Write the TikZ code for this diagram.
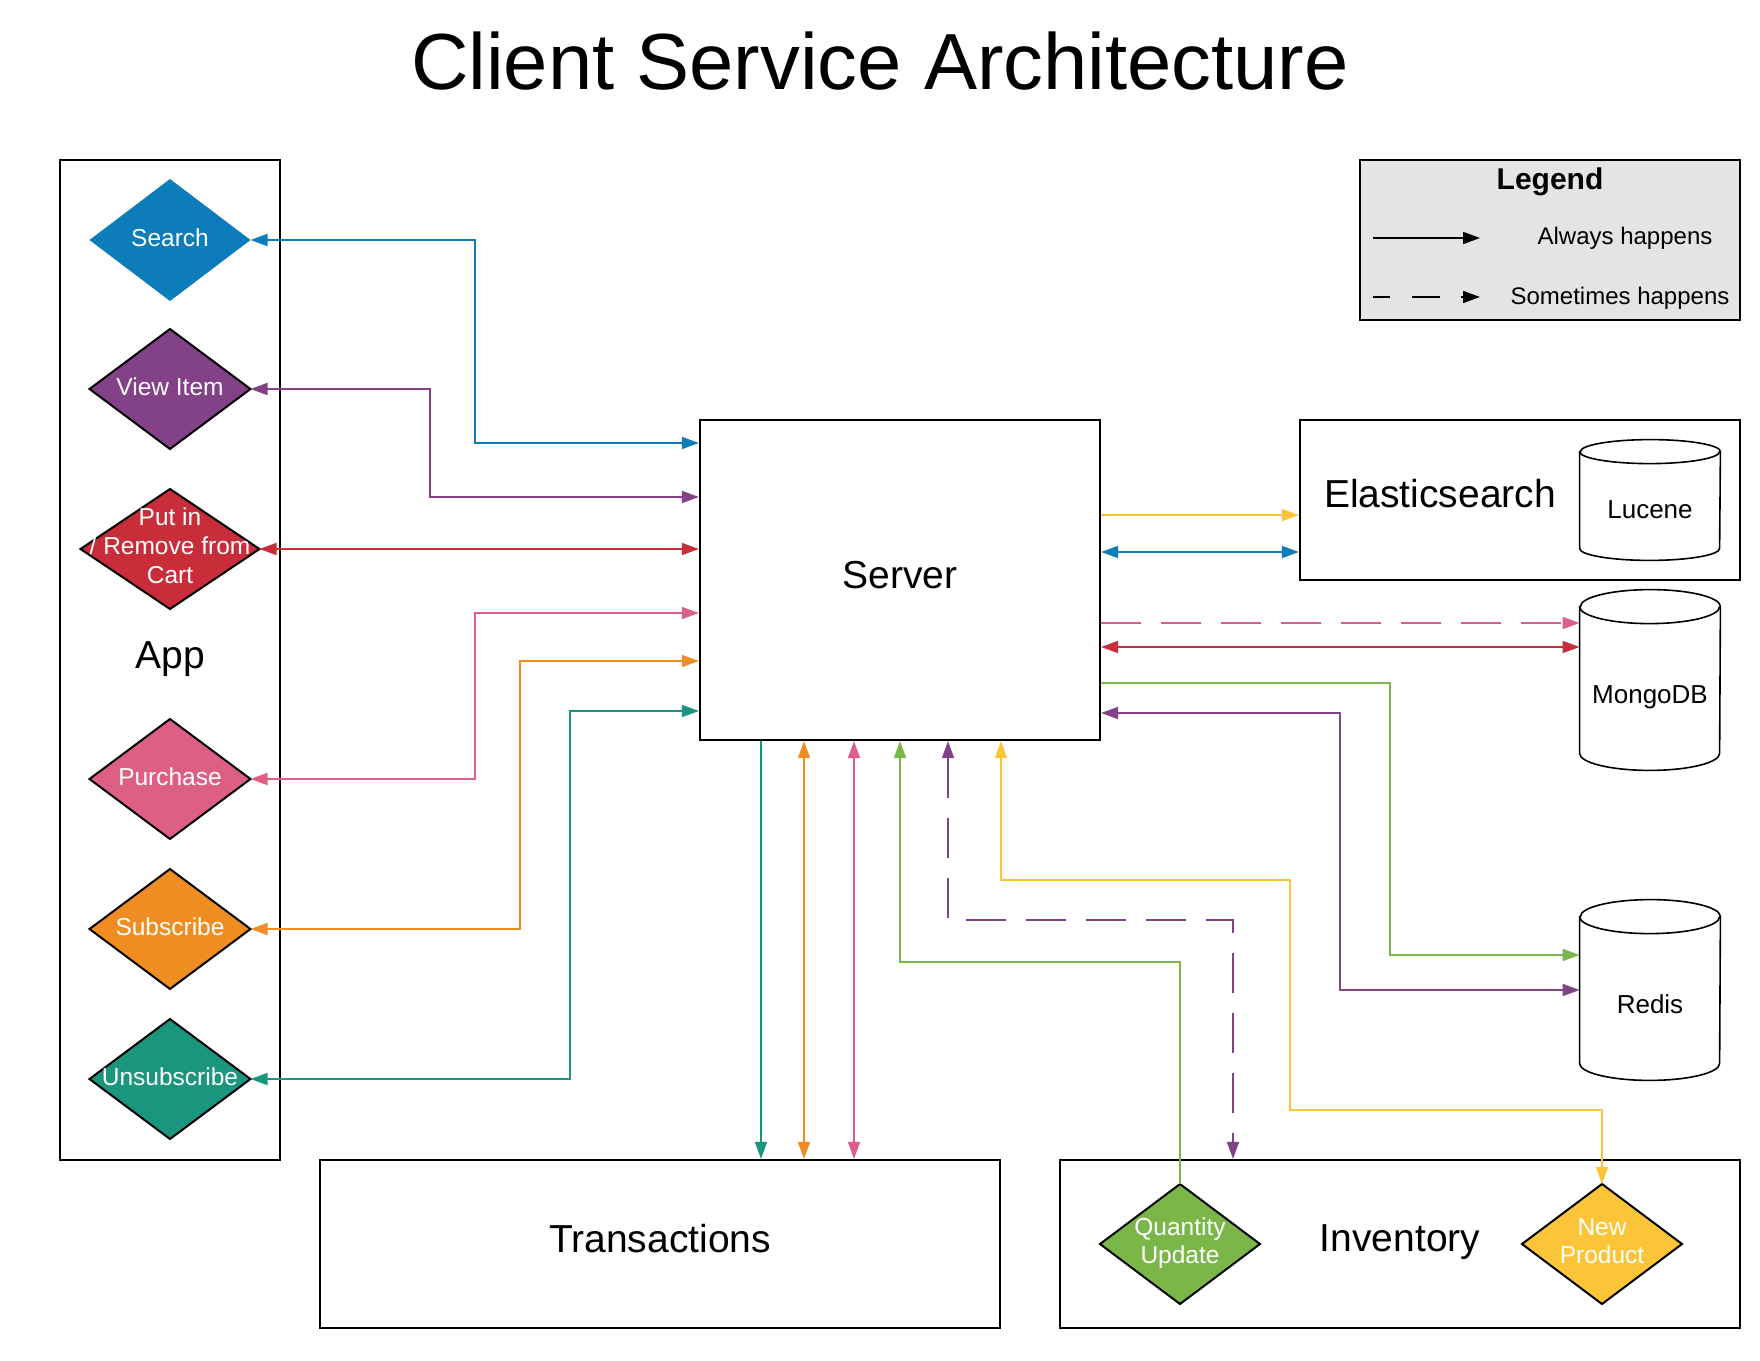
\documentclass[tikz,border=0pt]{standalone}
\usepackage{fontspec}
\setmainfont{Liberation Sans}
\usetikzlibrary{arrows.meta,shapes.geometric}
\definecolor{cBlue}{HTML}{0C7CBA}
\definecolor{cPurple}{HTML}{834187}
\definecolor{cRed}{HTML}{C92D39}
\definecolor{cPink}{HTML}{DE5F85}
\definecolor{cOrange}{HTML}{EF8D22}
\definecolor{cTeal}{HTML}{19967D}
\definecolor{cGreen}{HTML}{7AB648}
\definecolor{cYellow}{HTML}{FCC438}
\definecolor{cLegend}{HTML}{E4E4E4}
\newcommand\mycyl[2]{%
  \draw[line width=0.8pt, fill=white] ([yshift=-#2]#1.north west) -- ([yshift=#2]#1.south west)
    arc[start angle=180,end angle=360,x radius=35pt,y radius=#2]
    -- ([yshift=-#2]#1.north east)
    arc[start angle=0,end angle=180,x radius=35pt,y radius=#2] -- cycle;
  \draw[line width=0.8pt] ([yshift=-#2]#1.north west) arc[start angle=180,end angle=360,x radius=35pt,y radius=#2];
}
\begin{document}
\begin{tikzpicture}[x=0.5pt,y=-0.5pt,
  box/.style={draw, line width=1.1pt, rectangle, inner sep=0pt, fill=white},
  dbox/.style={rectangle, inner sep=0pt, draw=none},
  dia/.style={diamond, draw, line width=1pt, inner sep=0pt, outer sep=0pt, minimum width=80.5pt, minimum height=60pt},
  dtxt/.style={text=white, font=\fontsize{12.25pt}{14.5pt}\selectfont, text height=8.5pt, text depth=2.5pt, inner sep=0pt},
  dtxtm/.style={text=white, font=\fontsize{12.25pt}{14.5pt}\selectfont, align=center, inner sep=0pt},
  dtxtq/.style={text=white, font=\fontsize{12.25pt}{14pt}\selectfont, align=center, inner sep=0pt},
  big/.style={font=\fontsize{19.5pt}{23pt}\selectfont, anchor=base, inner sep=0pt},
  dbt/.style={font=\fontsize{13pt}{15pt}\selectfont, anchor=base, inner sep=0pt},
  leg/.style={font=\fontsize{12pt}{14pt}\selectfont, anchor=base, inner sep=0pt},
  conn/.style={line width=0.8pt},
  dsh/.style={dash pattern=on 20pt off 10pt},
  >={Triangle[length=8.5pt,width=6pt]}
]
\useasboundingbox (0,0) rectangle (1760,1360);

% title
\node[font=\fontsize{39.8pt}{47pt}\selectfont, anchor=base, inner sep=0pt] (title) at (880,89) {Client Service Architecture};

% App column
\node[box, minimum width=110pt, minimum height=500pt] (app) at (170,660) {};
\node[big] (applbl) at (170,668) {App};
\node[dia, fill=cBlue, draw=none, minimum height=61pt, label={[dtxt]center:Search}] (search) at (170,240) {};
\node[dia, fill=cPurple, label={[dtxt]center:View Item}] (view) at (170,389) {};
\node[dia, fill=cRed, minimum width=89.5pt, label={[dtxtm, yshift=1.8pt]center:{Put in\\/ Remove from\\Cart}}] (cart) at (170,549) {};
\node[dia, fill=cPink, label={[dtxt]center:Purchase}] (purchase) at (170,779) {};
\node[dia, fill=cOrange, label={[dtxt]center:Subscribe}] (sub) at (170,929) {};
\node[dia, fill=cTeal, label={[dtxt]center:Unsubscribe}] (unsub) at (170,1079) {};

% server
\node[box, minimum width=200pt, minimum height=160pt] (srv) at (900,580) {};
\node[big] (srvlbl) at (900,588) {Server};

% elasticsearch
\node[box, minimum width=220pt, minimum height=80pt] (es) at (1520,500) {};
\node[big] (eslbl) at (1440,507) {Elasticsearch};
\node[dbox, minimum width=70pt, minimum height=60pt] (lucene) at (1650,500) {};
\mycyl{lucene}{6pt}
\node[dbt] (lucenelbl) at (1650,518) {Lucene};

% databases
\node[dbox, minimum width=70pt, minimum height=90pt] (mongo) at (1650,680) {};
\mycyl{mongo}{8.5pt}
\node[dbt] (mongolbl) at (1650,703) {MongoDB};
\node[dbox, minimum width=70pt, minimum height=90pt] (redis) at (1650,990) {};
\mycyl{redis}{8.5pt}
\node[dbt] (redislbl) at (1650,1013) {Redis};

% transactions / inventory
\node[box, minimum width=340pt, minimum height=84pt] (trans) at (660,1244) {};
\node[big] (translbl) at (660,1252) {Transactions};
\node[box, minimum width=340pt, minimum height=84pt] (inv) at (1400,1244) {};
\node[big] (invlbl) at (1400,1251) {Inventory};
\node[dia, fill=cGreen, minimum width=80pt, label={[dtxtq, yshift=0.6pt]center:{Quantity\\Update}}] (qty) at (1180,1244) {};
\node[dia, fill=cYellow, minimum width=80pt, label={[dtxtq, yshift=1.3pt]center:{New\\Product}}] (newp) at (1602,1244) {};

% legend
\node[box, fill=cLegend, minimum width=190pt, minimum height=80pt] (legend) at (1550,240) {};
\node[font=\fontsize{15pt}{18pt}\selectfont\bfseries, anchor=base, inner sep=0pt] (legtitle) at (1550,189) {Legend};
\coordinate (la1) at (1373,238);
\coordinate (la2) at (1480,238);
\coordinate (ls1) at (1373,297);
\coordinate (ls2) at (1480,297);
\draw[conn, ->] (la1) -- (la2);
\draw[conn, ->, dash pattern=on 8.5pt off 11pt on 14pt off 10.5pt] (ls1) -- (ls2);
\node[leg] (always) at (1625,244) {Always happens};
\node[leg] (sometimes) at (1620,304) {Sometimes happens};

% left connectors
\draw[conn, cBlue, <->] (search.east) -- (475,240) |- (srv.west |- 0,443);
\draw[conn, cPurple, <->] (view.east) -- (430,389) |- (srv.west |- 0,497);
\draw[conn, cRed, <->] (cart.east) -- (cart.east -| srv.west);
\draw[conn, cPink, <->] (purchase.east) -- (475,779) |- (srv.west |- 0,613);
\draw[conn, cOrange, <->] (sub.east) -- (520,929) |- (srv.west |- 0,661);
\draw[conn, cTeal, <->] (unsub.east) -- (570,1079) |- (srv.west |- 0,711);

% right connectors
\draw[conn, cYellow, ->] (srv.east |- 0,515) -- (es.west |- 0,515);
\draw[conn, cBlue, <->] (srv.east |- 0,552) -- (es.west |- 0,552);
\draw[conn, cPink, ->, dsh] (srv.east |- 0,623) -- (mongo.west |- 0,623);
\draw[conn, cRed, <->] (srv.east |- 0,647) -- (mongo.west |- 0,647);
\draw[conn, cGreen, ->] (srv.east |- 0,683) -| (1390,955) -- (redis.west |- 0,955);
\draw[conn, cPurple, <->] (redis.west |- 0,990) -| (1340,713) -- (srv.east |- 0,713);

% bottom connectors
\draw[conn, cTeal, ->] (srv.south -| 761,0) -- (trans.north -| 761,0);
\draw[conn, cOrange, <->] (srv.south -| 804,0) -- (trans.north -| 804,0);
\draw[conn, cPink, <->] (srv.south -| 854,0) -- (trans.north -| 854,0);
\draw[conn, cGreen, ->] (qty.north) |- (900,962) -- (srv.south -| 900,0);
\draw[conn, cPurple, <->, dsh] (srv.south -| 948,0) -- (948,920) -| (inv.north -| 1233,0);
\draw[conn, cYellow, <->] (srv.south -| 1001,0) -- (1001,880) -| (1290,1110) -| (newp.north);
\end{tikzpicture}
\end{document}
